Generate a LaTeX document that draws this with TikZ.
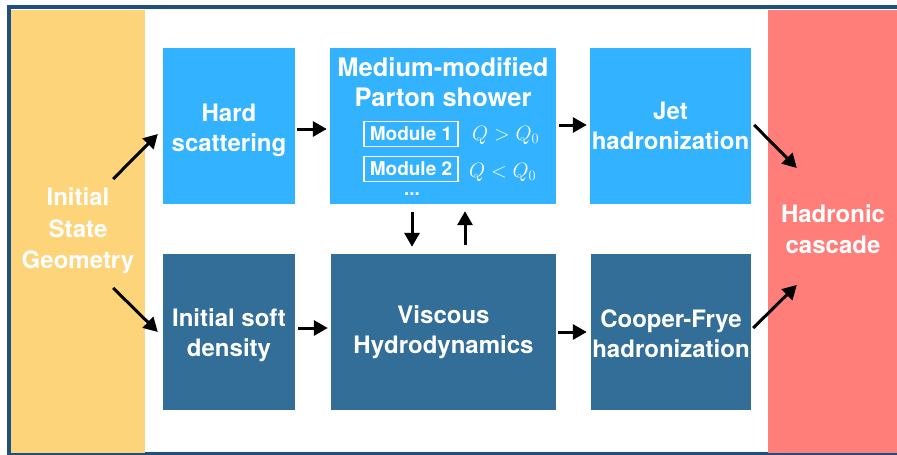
\documentclass[tikz,border=0pt]{standalone}
\usepackage{fontspec}
\setmainfont{TeX Gyre Heros}
\usetikzlibrary{
    arrows.meta,
    positioning,
    calc
}
\definecolor{frameBlue}{RGB}{30, 80, 125}
\definecolor{geoYellow}{RGB}{254, 212, 122}
\definecolor{cascRed}{RGB}{255, 126, 121}
\definecolor{jetBlue}{RGB}{50, 178, 255}
\definecolor{softBlue}{RGB}{50, 110, 151}
% extra height on a first line, to push a block of text down
\newcommand{\pushdown}[1]{\rule{0pt}{#1}}
\tikzset{
    panel/.style={
        rectangle,
        draw=none,
        minimum height=443pt,
        text=white,
        font=\bfseries\fontsize{24}{31.5}\selectfont,
        align=center,
        inner sep=0pt
    },
    jetBox/.style={
        rectangle,
        fill=jetBlue,
        minimum height=156pt,
        text=white,
        font=\bfseries\fontsize{24}{30}\selectfont,
        align=center,
        inner sep=0pt
    },
    softBox/.style={
        jetBox,
        fill=softBlue
    },
    moduleBox/.style={
        rectangle,
        draw=white,
        line width=1.4pt,
        minimum width=94pt,
        minimum height=25pt,
        inner sep=0pt,
        text=white,
        font=\bfseries\fontsize{19}{22}\selectfont
    },
    condText/.style={
        text=white,
        font=\fontsize{22}{25}\selectfont,
        inner sep=0pt,
        anchor=west
    },
    flow/.style={
        line width=3pt,
        -{Triangle[length=14pt,width=15pt]}
    }
}

\begin{document}
\begin{tikzpicture}[x=1pt, y=-1pt]
    \useasboundingbox (0,0) rectangle (897,455);
    \clip (0,0) rectangle (897,455);
    \draw[frameBlue, line width=4pt] (9,7) rectangle (910,454);

    % Side panels
    \node[panel, fill=geoYellow, minimum width=134pt] (geo) at (78,231) {Initial\\State\\Geometry};
    \node[panel, fill=cascRed, minimum width=130pt] (casc) at (833,231) {Hadronic\\cascade\rule[-4pt]{0pt}{0pt}};

    % Jet branch
    \node[jetBox, minimum width=132pt] (hard) at (229,126) {\pushdown{27pt}Hard\\scattering};
    \node[jetBox, minimum width=226pt] (shower) at (443,126) {};
    \node[jetBox, minimum width=161pt] (jet) at (670.5,126) {Jet\\hadronization};

    % Shower content
    \node[text=white, font=\bfseries\fontsize{25.5}{30}\selectfont, align=center, inner sep=0pt] (title) at (443,82) {Medium-modified\\Parton shower};
    \node[moduleBox] (mod1) at (411,134) {Module 1};
    \node[moduleBox] (mod2) at (411,169) {Module 2};
    \node[condText] (cond1) at (472,135) {$Q > Q_0$};
    \node[condText] (cond2) at (469,172) {$Q < Q_0$};
    \node[text=white, font=\bfseries\fontsize{19}{22}\selectfont, inner sep=0pt] (dots) at (412,194) {...};

    % Soft branch
    \node[softBox, minimum width=132pt] (soft) at (229,332) {\pushdown{24pt}Initial soft\\density};
    \node[softBox, minimum width=225pt] (hydro) at (443.5,332) {Viscous\\Hydrodynamics};
    \node[softBox, minimum width=160pt] (cooper) at (671,332) {\pushdown{21pt}Cooper-Frye\\hadronization};

    % Edges
    \draw[flow] ($(geo.east)+(-32,-52)$) -- ($(hard.west)+(-5,8)$);
    \draw[flow] ($(geo.east)+(-32,57)$) -- ($(soft.west)+(-5,0)$);
    \draw[flow, shorten <=2pt, shorten >=3pt] ($(hard.east)+(0,3)$) -- ($(shower.west)+(0,3)$);
    \draw[flow, shorten <=3pt, shorten >=3pt] ($(shower.east)+(0,-1)$) -- ($(jet.west)+(0,-1)$);
    \draw[flow, shorten <=3pt, shorten >=3pt] ($(soft.east)+(0,-4)$) -- ($(hydro.west)+(0,-4)$);
    \draw[flow, shorten <=2pt, shorten >=4pt] (hydro.east) -- (cooper.west);
    \draw[flow] ($(jet.east)+(3,-1)$) -- ($(casc.west)+(29,-63)$);
    \draw[flow] ($(cooper.east)+(2,-4)$) -- ($(casc.west)+(29,54)$);
    \draw[flow, shorten <=8pt, shorten >=7pt] ([xshift=-31pt]shower.south) -- ([xshift=-31.5pt]hydro.north);
    \draw[flow, shorten <=9pt, shorten >=7pt] ([xshift=21.5pt]hydro.north) -- ([xshift=22pt]shower.south);
\end{tikzpicture}
\end{document}
